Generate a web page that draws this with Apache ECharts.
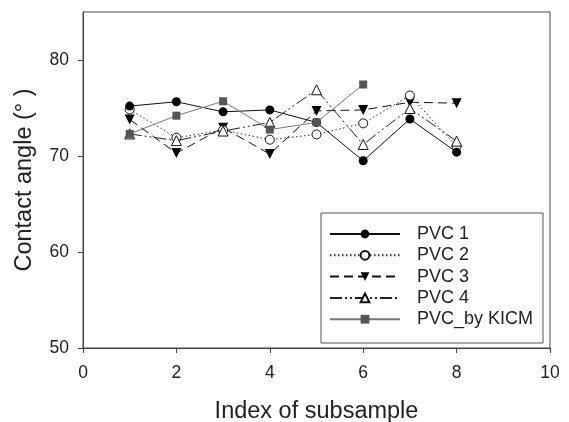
<!DOCTYPE html>
<html>
<head>
<meta charset="utf-8">
<script src="https://cdn.jsdelivr.net/npm/echarts@6/dist/echarts.min.js"></script>
<style>
html,body{margin:0;padding:0;background:#fff;}
#main{width:569px;height:422px;}
</style>
</head>
<body>
<div id="main"></div>
<script>
// subsample index
var xIdx = [1, 2, 3, 4, 5, 6, 7, 8];
var kicmIdx = [1, 2, 3, 4, 5, 6];
// contact angle values
var pvc1 = [75.2, 75.65, 74.6, 74.8, 73.5, 69.5, 73.85, 70.4];
var pvc2 = [74.85, 71.9, 72.7, 71.7, 72.25, 73.4, 76.3, 71.0];
var pvc3 = [73.8, 70.3, 72.95, 70.2, 74.7, 74.8, 75.6, 75.5];
var pvc4 = [72.3, 71.6, 72.6, 73.5, 76.9, 71.2, 74.95, 71.55];
var kicm = [72.3, 74.2, 75.7, 72.75, 73.5, 77.45];
var yTicks = [50, 60, 70, 80];

function pairs(xs, ys) {
    var out = [];
    for (var i = 0; i < xs.length; i++) {
        out.push([xs[i], ys[i]]);
    }
    return out;
}

var font = 'Liberation Sans, Arial, sans-serif';
var chart = echarts.init(document.getElementById('main'));

var option = {
    animation: false,
    backgroundColor: '#fff',
    grid: {
        left: 83, top: 12, right: 19, bottom: 74,
        show: true,
        borderColor: '#444',
        borderWidth: 1,
        containLabel: false,
        outerBoundsMode: 'none'
    },
    graphic: [{
        type: 'rect',
        shape: {x: 321, y: 213, width: 222, height: 130},
        style: {fill: '#fff', stroke: '#555', lineWidth: 1},
        z: 50
    }],
    legend: {
        orient: 'vertical',
        left: 329,
        top: 225,
        itemWidth: 70,
        itemHeight: 11,
        itemGap: 3.3,
        padding: 0,
        z: 60,
        textStyle: {fontFamily: font, fontSize: 18, lineHeight: 18, color: '#222', padding: [0, 0, 0, 12]},
        data: ['PVC 1', 'PVC 2', 'PVC 3', 'PVC 4', 'PVC_by KICM']
    },
    xAxis: {
        type: 'value',
        min: 0, max: 10, interval: 2,
        name: 'Index of subsample',
        nameLocation: 'middle',
        nameGap: 52,
        nameTextStyle: {fontFamily: font, fontSize: 23.5, color: '#222'},
        axisLine: {show: true, lineStyle: {color: '#444', width: 1}},
        axisTick: {show: true, length: 5, lineStyle: {color: '#444'}},
        axisLabel: {fontFamily: font, fontSize: 17.5, color: '#222', margin: 16},
        splitLine: {show: false}
    },
    yAxis: {
        type: 'value',
        min: 50, max: 85, interval: 10,
        name: 'Contact angle (° )',
        nameLocation: 'middle',
        nameGap: 46,
        nameTextStyle: {fontFamily: font, fontSize: 23.5, color: '#222'},
        axisLine: {show: true, lineStyle: {color: '#444', width: 1}},
        axisTick: {show: true, length: 5, customValues: yTicks, lineStyle: {color: '#444'}},
        axisLabel: {fontFamily: font, fontSize: 17.5, color: '#222', margin: 14, customValues: yTicks},
        splitLine: {show: false}
    },
    series: [{
        name: 'PVC 1',
        type: 'line',
        data: pairs(xIdx, pvc1),
        symbol: 'circle',
        symbolSize: 9,
        lineStyle: {color: '#111', width: 1},
        itemStyle: {color: '#000'},
        z: 5
    }, {
        name: 'PVC 2',
        type: 'line',
        data: pairs(xIdx, pvc2),
        symbol: 'circle',
        symbolSize: 9,
        lineStyle: {color: '#333', width: 1, type: [1.5, 2.5]},
        itemStyle: {color: '#fff', borderColor: '#111', borderWidth: 1},
        z: 4
    }, {
        name: 'PVC 3',
        type: 'line',
        data: pairs(xIdx, pvc3),
        symbol: 'triangle',
        symbolRotate: 180,
        symbolSize: 10,
        lineStyle: {color: '#111', width: 1, type: [9, 5]},
        itemStyle: {color: '#000'},
        z: 3
    }, {
        name: 'PVC 4',
        type: 'line',
        data: pairs(xIdx, pvc4),
        symbol: 'triangle',
        symbolSize: 10,
        lineStyle: {color: '#222', width: 1, type: [12, 3, 2, 3, 2, 3]},
        itemStyle: {color: '#fff', borderColor: '#111', borderWidth: 1},
        z: 6
    }, {
        name: 'PVC_by KICM',
        type: 'line',
        data: pairs(kicmIdx, kicm),
        symbol: 'rect',
        symbolSize: 8,
        lineStyle: {color: '#777', width: 1},
        itemStyle: {color: '#555'},
        z: 7
    }]
};

chart.setOption(option);
</script>
</body>
</html>
